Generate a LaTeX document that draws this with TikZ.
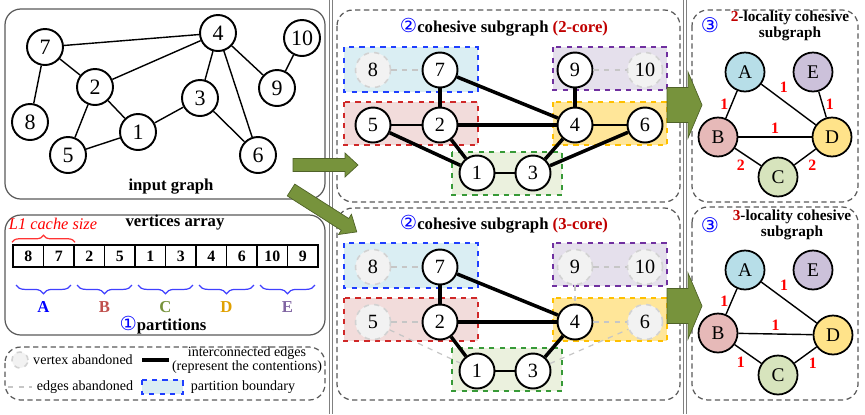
\documentclass[tikz,border=0pt]{standalone}
\usepackage{fontspec}
\setmainfont{Liberation Serif}
\newfontfamily\symfont{DejaVu Sans}
\usetikzlibrary{decorations.pathreplacing}

\definecolor{armygreen}{HTML}{77933C}
\definecolor{armydark}{HTML}{4F6228}
\definecolor{partA}{HTML}{DAEEF3}
\definecolor{partB}{HTML}{F2DCDB}
\definecolor{partC}{HTML}{EBF1DE}
\definecolor{partD}{HTML}{FFE699}
\definecolor{partE}{HTML}{E5E0EC}
\definecolor{lineA}{HTML}{1F3FFF}
\definecolor{lineB}{HTML}{D02828}
\definecolor{lineC}{HTML}{379A37}
\definecolor{lineD}{HTML}{FFC000}
\definecolor{lineE}{HTML}{7030A0}
\definecolor{nodeA}{HTML}{B7DEE8}
\definecolor{nodeB}{HTML}{E6B9B8}
\definecolor{nodeC}{HTML}{D7E4BD}
\definecolor{nodeD}{HTML}{FFE38A}
\definecolor{nodeE}{HTML}{CCC1DA}
\definecolor{labB}{HTML}{C0504D}
\definecolor{labC}{HTML}{77933C}
\definecolor{labD}{HTML}{E0A000}
\definecolor{labE}{HTML}{8064A2}
\definecolor{coreRed}{HTML}{C00000}

\tikzset{
  pics/fatarrow/.style args={#1/#2/#3/#4}{code={
    \filldraw[fill=armygreen,draw=armydark,line width=0.4pt]
      (0,-#2) -- ({#1-#3},-#2) -- ({#1-#3},-#4) -- (#1,0)
      -- ({#1-#3},#4) -- ({#1-#3},#2) -- (0,#2) -- cycle;}}
}

\begin{document}
\begin{tikzpicture}[x=0.02cm,y=-0.02cm,line width=0.8pt,
  vtx/.style={circle,draw,line width=1.1pt,fill=white,inner sep=0pt,minimum size=0.72cm,font=\fontsize{12.5}{12}\selectfont},
  sub/.style={vtx,minimum size=0.7cm,font=\fontsize{11.5}{12}\selectfont},
  gone/.style={sub,draw=gray!35,dashed,line width=0.9pt,fill=gray!10},
  loc/.style={vtx,minimum size=0.78cm,line width=1pt,font=\fontsize{11}{12}\selectfont},
  hot/.style={line width=2pt},
  cut/.style={gray!45,dashed,line width=0.7pt},
  part/.style={dashed,line width=0.9pt},
  panel/.style={draw=black!65,rounded corners=9pt,line width=0.7pt},
  dpanel/.style={panel,dash pattern=on 3pt off 2pt},
  title/.style={font=\fontsize{9.5}{10}\selectfont\bfseries},
  small/.style={font=\fontsize{8}{7.6}\selectfont},
  wt/.style={text=red,font=\fontsize{9}{9}\selectfont\bfseries,inner sep=1.5pt},
  cell/.style={draw,line width=1.1pt,minimum width=0.61cm,minimum height=0.44cm,inner sep=0pt,font=\fontsize{9}{9}\selectfont\bfseries}]
  \useasboundingbox (0,0) rectangle (865,414);
  % separators and panels
  \foreach \x in {331,685} \draw[gray,line width=0.5pt,double=white,double distance=1.2pt] (\x,0) -- (\x,414);
  \draw[panel] (5,9) rectangle (325,199);
  \draw[panel] (5,215) rectangle (325,335);
  \draw[dpanel] (5,347) rectangle (325,400);
  \draw[dpanel] (337,10) rectangle (680,202);
  \draw[dpanel] (337,208) rectangle (680,400);
  \draw[dpanel] (692,10) rectangle (858,202);
  \draw[dpanel] (692,207) rectangle (858,400);

  % input graph
  \foreach \n/\x/\y in {7/45/47,4/218/33,10/302/38,2/95/87,3/200/98,9/277/88,8/30/122,1/138/132,5/68/155,6/258/155}
    \node[vtx] (g\n) at (\x,\y) {\n};
  \foreach \a/\b in {7/4,7/2,7/8,2/4,2/5,2/1,1/5,1/3,3/4,3/6,4/6,4/9,9/10} \draw (g\a) -- (g\b);
  \node[title] (ginput) at (171,187) {input graph};

  % vertices array
  \node[title] (arrtitle) at (175,222) {vertices array};
  \node[text=red,font=\fontsize{9.3}{10}\selectfont\itshape] (cache) at (53,224) {L1 cache size};
  \foreach \v [count=\i] in {8,7,2,5,1,3,4,6,10,9}
    \node[cell] (c\i) at ({13+30.5*(\i-0.5)},256) {\v};
  \draw[red!80,line width=0.7pt,decorate,decoration={brace,amplitude=4pt,raise=1pt}] (c1.north west) -- (c2.north east);
  \foreach \p/\c [count=\i] in {A/blue,B/labB,C/labC,D/labD,E/labE}{
    \draw[blue!75,line width=0.7pt,decorate,decoration={brace,amplitude=5pt}] ({13+61*\i-3},285) -- ({13+61*(\i-1)+3},285);
    \node[text=\c,font=\fontsize{9.5}{10}\selectfont\bfseries] (lab\p) at ({13+61*(\i-0.5)},307) {\p};
  }
  \node[title] (parts) at (163,325) {\textcolor{blue}{\symfont\mdseries\fontsize{11}{11}\selectfont ①}partitions};

  % legend
  \node[gone,minimum size=0.32cm] (lgv) at (20,360) {};
  \node[small] (lgvt) at (83,360) {vertex abandoned};
  \coordinate (lh1) at (142,360); \coordinate (lh2) at (169,360);
  \draw[line width=2.2pt] (lh1) -- (lh2);
  \node[small,align=center] (lght) at (247,360) {interconnected edges\\(represent the contentions)};
  \coordinate (lc1) at (8,387); \coordinate (lc2) at (32,387);
  \draw[cut] (lc1) -- (lc2);
  \node[small] (lgct) at (85,387) {edges abandoned};
  \draw[part,draw=lineA,fill=partA] (142,380) rectangle (183,394);
  \node[small] (lgpt) at (243,387) {partition boundary};

  % cohesive subgraphs: partition boxes
  \foreach \dy in {0,196}{
    \draw[part,draw=lineA,fill=partA] (344,{47+\dy}) rectangle (478,{92+\dy});
    \draw[part,draw=lineB,fill=partB] (344,{102+\dy}) rectangle (478,{145+\dy});
    \draw[part,draw=lineC,fill=partC] (452,{152+\dy}) rectangle (562,{195+\dy});
    \draw[part,draw=lineE,fill=partE] (553,{47+\dy}) rectangle (667,{90+\dy});
    \draw[part,draw=lineD,fill=partD] (553,{102+\dy}) rectangle (667,{145+\dy});
  }
  % 2-core
  \node[title] (ttitle) at (504,27) {\textcolor{blue}{\symfont\mdseries\fontsize{11}{11}\selectfont ②}cohesive subgraph \textcolor{coreRed}{(2-core)}};
  \foreach \n/\x/\y in {7/440/70,9/575/70,5/373/125,2/440/125,4/575/125,6/645/125,1/477/173,3/533/173}
    \node[sub] (t\n) at (\x,\y) {\n};
  \foreach \n/\x/\y in {8/373/70,10/645/70}
    \node[gone] (t\n) at (\x,\y) {\n};
  \foreach \a/\b in {8/7,9/10} \draw[cut] (t\a) -- (t\b);
  \foreach \a/\b in {5/2,1/3,4/6} \draw (t\a) -- (t\b);
  \foreach \a/\b in {7/2,7/4,2/4,5/1,2/1,3/4,3/6,9/4} \draw[hot] (t\a) -- (t\b);

  % 3-core
  \node[title] (btitle) at (504,224) {\textcolor{blue}{\symfont\mdseries\fontsize{11}{11}\selectfont ②}cohesive subgraph \textcolor{coreRed}{(3-core)}};
  \foreach \n/\x/\y in {7/440/267,2/440/322,4/575/322,1/477/371,3/533/371}
    \node[sub] (b\n) at (\x,\y) {\n};
  \foreach \n/\x/\y in {8/373/267,9/575/267,10/645/267,5/373/322,6/645/322}
    \node[gone] (b\n) at (\x,\y) {\n};
  \foreach \a/\b in {8/7,9/10,5/2,5/1,3/6,9/4,4/6} \draw[cut] (b\a) -- (b\b);
  \draw (b1) -- (b3);
  \foreach \a/\b in {7/2,7/4,2/4,2/1,3/4} \draw[hot] (b\a) -- (b\b);

  % locality cohesive subgraphs
  \node[font=\fontsize{11.5}{12}\selectfont\symfont,text=blue,inner sep=0pt] (rnum) at (710,25) {③};
  \node[title,font=\fontsize{8.7}{7.6}\selectfont\bfseries,align=center] (rtitle) at (790,26) {\textcolor{coreRed}{2}-locality cohesive\\subgraph};
  \foreach \n/\x/\y in {A/745/72,E/813/72,B/718/137,D/832/137,C/778/177}
    \node[loc,fill=node\n] (r\n) at (\x,\y) {\n};
  \draw (rA) -- node[wt,left] {1} (rB);
  \draw (rA) -- node[wt,pos=0.28,above right] {1} (rD);
  \draw (rE) -- node[wt,right] {1} (rD);
  \draw (rB) -- node[wt,above] {1} (rD);
  \draw (rB) -- node[wt,below left] {2} (rC);
  \draw (rC) -- node[wt,below right] {2} (rD);

  \node[font=\fontsize{11.5}{12}\selectfont\symfont,text=blue,inner sep=0pt] (snum) at (710,225) {③};
  \node[title,font=\fontsize{8.7}{7.6}\selectfont\bfseries,align=center] (stitle) at (792,225) {\textcolor{coreRed}{3}-locality cohesive\\subgraph};
  \foreach \n/\x/\y in {A/745/270,E/813/270,B/718/333,D/833/335,C/778/375}
    \node[loc,fill=node\n] (s\n) at (\x,\y) {\n};
  \draw (sA) -- node[wt,left] {1} (sB);
  \draw (sA) -- node[wt,pos=0.28,above right] {1} (sD);
  \draw (sB) -- node[wt,above] {1} (sD);
  \draw (sB) -- node[wt,below left] {1} (sC);
  \draw (sC) -- node[wt,below right] {1} (sD);

  % big arrows
  \pic at (293,165) {fatarrow=65/6.5/13/12};
  \pic[rotate=-32.5] at (291,190) {fatarrow=78/7/14/12};
  \pic at (667,105) {fatarrow=35/17.5/14/33};
  \pic at (667,306) {fatarrow=35/17.5/14/33};
\end{tikzpicture}
\end{document}
